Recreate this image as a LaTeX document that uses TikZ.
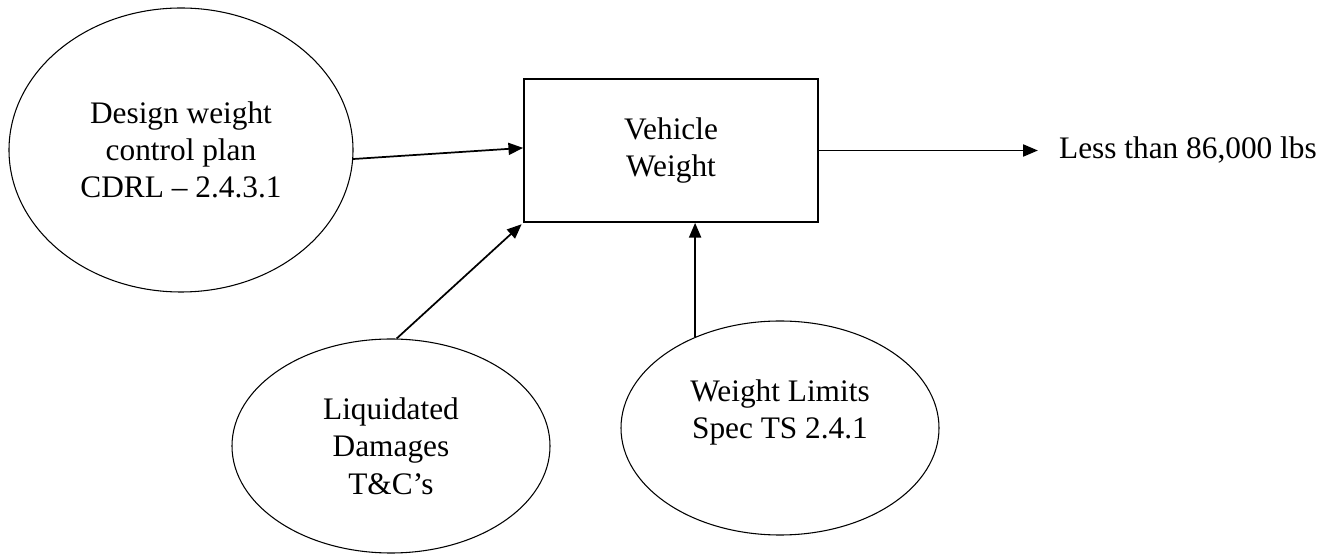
\documentclass[tikz,border=0pt]{standalone}
\usepackage{fontspec}
\setmainfont{Liberation Serif}
\usetikzlibrary{arrows.meta,shapes.geometric,positioning,calc}

\begin{document}
\begin{tikzpicture}[x=0.75pt,y=-0.75pt,
		every node/.style={font=\fontsize{23.5}{28}\selectfont, align=center},
		source/.style={ellipse, draw, line width=0.8pt, inner sep=0pt},
		block/.style={rectangle, draw, line width=1.3pt, minimum width=220.5pt, minimum height=107.25pt},
		arr/.style={line width=1.3pt, -{Triangle[length=11pt,width=9pt]}}]
			\useasboundingbox (0,0) rectangle (1332,555);
			
			% Vehicle weight block
			\node[block] (weight) at (671,150.5) {Vehicle\\Weight};
			
			% Result
			\node[inner sep=0pt, right=180pt of weight] (target) {Less than 86,000 lbs};
			\draw[arr, shorten >=15.75pt] (weight) -- (target);
			
			% Design plan
			\node[source, minimum width=258pt, minimum height=213pt] (plan) at (181,150) {Design weight\\control plan\\CDRL -- 2.4.3.1};
			\draw[arr] (plan.-3) -- (weight.179);
			
			% Liquidated damages
			\node[source, minimum width=238.5pt, minimum height=160.5pt] (damages) at (391,446) {Liquidated\\Damages\\T\&C's};
			\draw[arr, shorten >=1.5pt] (damages.87) -- (weight.south west);
			
			% Weight limits
			\node[source, minimum width=238.5pt, minimum height=160.5pt] (limits) at (780,428) {Weight Limits\\Spec TS 2.4.1\\\mbox{}};
			\draw[arr] (limits.133) -- (limits.133 |- weight.south);
		\end{tikzpicture}
\end{document}
